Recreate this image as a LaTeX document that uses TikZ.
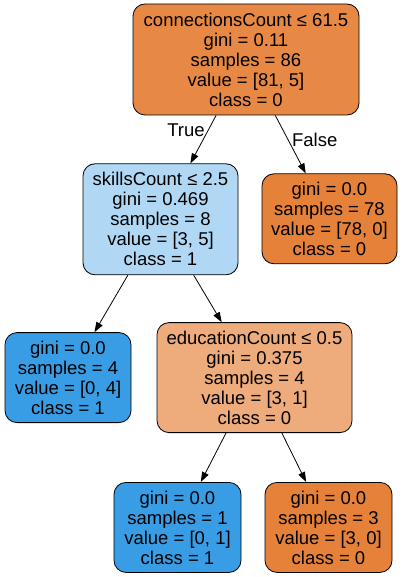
\documentclass[tikz,border=0pt]{standalone}
\usepackage{fontspec}
\setmainfont{Liberation Sans}
\usetikzlibrary{positioning,arrows.meta}
\definecolor{rootfill}{HTML}{E78945}
\definecolor{skillfill}{HTML}{B0D8F5}
\definecolor{edufill}{HTML}{EEAB7B}
\definecolor{orangeleaf}{HTML}{E58139}
\definecolor{blueleaf}{HTML}{399DE5}
\tikzset{
  tree/.style = {draw, rectangle, rounded corners=12pt, align=center,
    inner sep=2pt, line width=0.8pt,
    font=\fontsize{18.5}{20}\selectfont},
  split/.style = {tree, minimum height=111pt},
  leaf/.style = {tree, minimum height=90pt, minimum width=127pt}
}

\begin{document}
\begin{tikzpicture}[auto, >={Triangle[length=10pt,width=7pt]}]
    \useasboundingbox (0,0) rectangle (403pt,-577pt);
    % the splits and the leaves of the tree
    \node [split, fill=rootfill, minimum width=226pt] (root) at (246pt,-59.5pt)
        {connectionsCount ≤ 61.5\\gini = 0.11\\samples = 86\\value = [81, 5]\\class = 0};
    \node [split, fill=skillfill, minimum width=155pt,
        below=48pt of root, xshift=-85.5pt] (skills)
        {skillsCount ≤ 2.5\\gini = 0.469\\samples = 8\\value = [3, 5]\\class = 1};
    \node [leaf, fill=orangeleaf, minimum width=135pt,
        below=58pt of root, xshift=83.5pt] (leafA)
        {gini = 0.0\\samples = 78\\value = [78, 0]\\class = 0};
    \node [leaf, fill=blueleaf, minimum width=126pt,
        below=57pt of skills, xshift=-92.5pt] (leafB)
        {gini = 0.0\\samples = 4\\value = [0, 4]\\class = 1};
    \node [split, fill=edufill, minimum width=195pt, minimum height=110pt,
        below=47pt of skills, xshift=94pt] (edu)
        {educationCount ≤ 0.5\\gini = 0.375\\samples = 4\\value = [3, 1]\\class = 0};
    \node [leaf, fill=blueleaf, below=49pt of edu, xshift=-77pt] (leafC)
        {gini = 0.0\\samples = 1\\value = [0, 1]\\class = 1};
    \node [leaf, fill=orangeleaf, below=49pt of edu, xshift=74pt] (leafD)
        {gini = 0.0\\samples = 3\\value = [3, 0]\\class = 0};

    % the edges
    \draw [->, line width=0.8pt] (root) -- node[left, pos=0.3,
        font=\fontsize{18.5}{20}\selectfont] {True} (skills);
    \draw [->, line width=0.8pt] (root) -- node[right, pos=0.43,
        font=\fontsize{18.5}{20}\selectfont] {False} (leafA);
    \draw [->, line width=0.8pt] (skills) -- (leafB);
    \draw [->, line width=0.8pt] (skills) -- (edu);
    \draw [->, line width=0.8pt] (edu) -- (leafC);
    \draw [->, line width=0.8pt] (edu) -- (leafD);
\end{tikzpicture}
\end{document}
